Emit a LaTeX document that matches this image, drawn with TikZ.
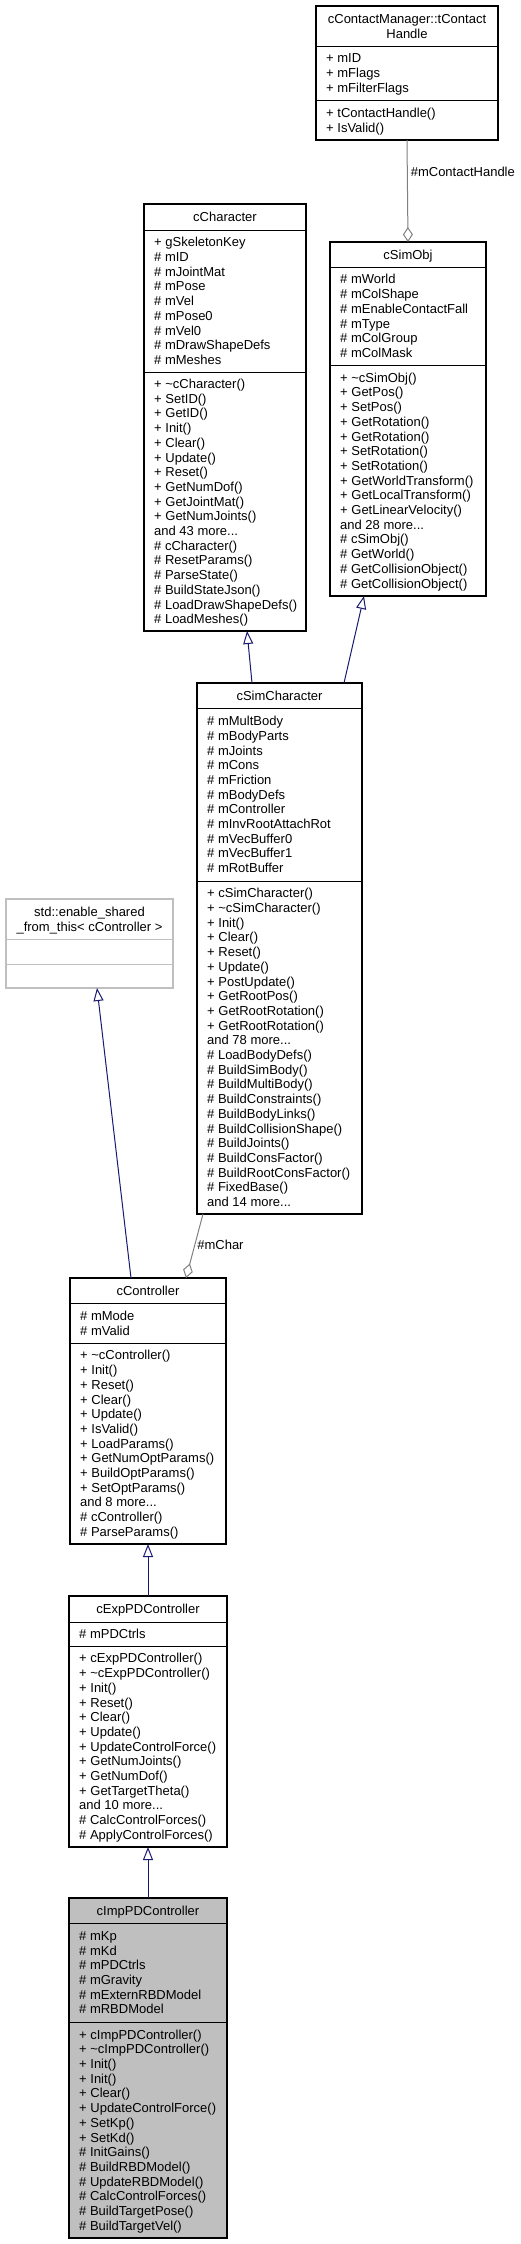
\documentclass[tikz,border=0pt]{standalone}
\usepackage{fontspec}
\setmainfont{Liberation Sans}
\usetikzlibrary{arrows.meta}
\definecolor{inh}{HTML}{191970}
\definecolor{agg}{HTML}{808080}
\definecolor{extc}{HTML}{BFBFBF}
\definecolor{curc}{HTML}{BFBFBF}
\newcommand\cf{\fontsize{13}{14.7}\selectfont}
\newcommand\rs{\rule[-2.7pt]{0pt}{14.7pt}}
\newcommand\cbox[6]{%
  \node[classbox,#6,minimum width={#3-#2},minimum height={#5-#4}] (#1) at ({(#2+#3)/2},{(#4+#5)/2}) {};}
\newcommand\cdiv[4]{\draw[divider,#4] (#1,#3) -- (#2,#3);}
\tikzset{
  classbox/.style={draw=black,line width=1.2pt,fill=white,inner sep=0pt,outer sep=0pt},
  divider/.style={draw=black,line width=1pt},
  ctitle/.style={font=\cf,align=center,inner sep=0pt},
  members/.style={font=\cf,align=left,inner sep=0pt,anchor=west},
  inherit/.style={draw=inh,line width=1pt,-{Triangle[open,length=13pt,width=10pt]}},
  aggreg/.style={draw=agg,line width=1pt,-{Diamond[open,length=15pt,width=10pt]}},
  elabel/.style={font=\cf,inner sep=0pt,anchor=west,text=black},
}
\begin{document}
\begin{tikzpicture}[x=1pt,y=-1pt]
\useasboundingbox (0,0) rectangle (521,2244);

% cContactManager::tContactHandle
\cbox{tcontact}{316}{498}{6}{140}{}
\cdiv{316}{498}{46}{}
\cdiv{316}{498}{100}{}
\node[ctitle] (tcontact-t) at (407,26) {\rs cContactManager::tContact\\\rs Handle};
\node[members] (tcontact-a) at (326,73) {\rs + mID\\\rs + mFlags\\\rs + mFilterFlags};
\node[members] (tcontact-m) at (326,120) {\rs + tContactHandle()\\\rs + IsValid()};

% cCharacter
\cbox{ccharacter}{144}{306}{204}{631}{}
\cdiv{144}{306}{230}{}
\cdiv{144}{306}{372}{}
\node[ctitle] (ccharacter-t) at (225,217) {\rs cCharacter};
\node[members] (ccharacter-a) at (154,301) {\rs + gSkeletonKey\\\rs\# mID\\\rs\# mJointMat\\\rs\# mPose\\\rs\# mVel\\\rs\# mPose0\\\rs\# mVel0\\\rs\# mDrawShapeDefs\\\rs\# mMeshes};
\node[members] (ccharacter-m) at (154,501.5) {\rs + \textasciitilde cCharacter()\\\rs + SetID()\\\rs + GetID()\\\rs + Init()\\\rs + Clear()\\\rs + Update()\\\rs + Reset()\\\rs + GetNumDof()\\\rs + GetJointMat()\\\rs + GetNumJoints()\\\rs and 43 more...\\\rs\# cCharacter()\\\rs\# ResetParams()\\\rs\# ParseState()\\\rs\# BuildStateJson()\\\rs\# LoadDrawShapeDefs()\\\rs\# LoadMeshes()};

% cSimObj
\cbox{csimobj}{330}{486}{242}{596}{}
\cdiv{330}{486}{267}{}
\cdiv{330}{486}{365}{}
\node[ctitle] (csimobj-t) at (408,254.5) {\rs cSimObj};
\node[members] (csimobj-a) at (340,316) {\rs\# mWorld\\\rs\# mColShape\\\rs\# mEnableContactFall\\\rs\# mType\\\rs\# mColGroup\\\rs\# mColMask};
\node[members] (csimobj-m) at (340,480.5) {\rs + \textasciitilde cSimObj()\\\rs + GetPos()\\\rs + SetPos()\\\rs + GetRotation()\\\rs + GetRotation()\\\rs + SetRotation()\\\rs + SetRotation()\\\rs + GetWorldTransform()\\\rs + GetLocalTransform()\\\rs + GetLinearVelocity()\\\rs and 28 more...\\\rs\# cSimObj()\\\rs\# GetWorld()\\\rs\# GetCollisionObject()\\\rs\# GetCollisionObject()};

% cSimCharacter
\cbox{csimchar}{197}{362}{683}{1214}{}
\cdiv{197}{362}{708}{}
\cdiv{197}{362}{881}{}
\node[ctitle] (csimchar-t) at (279.5,695.5) {\rs cSimCharacter};
\node[members] (csimchar-a) at (207,794.5) {\rs\# mMultBody\\\rs\# mBodyParts\\\rs\# mJoints\\\rs\# mCons\\\rs\# mFriction\\\rs\# mBodyDefs\\\rs\# mController\\\rs\# mInvRootAttachRot\\\rs\# mVecBuffer0\\\rs\# mVecBuffer1\\\rs\# mRotBuffer};
\node[members] (csimchar-m) at (207,1047.5) {\rs + cSimCharacter()\\\rs + \textasciitilde cSimCharacter()\\\rs + Init()\\\rs + Clear()\\\rs + Reset()\\\rs + Update()\\\rs + PostUpdate()\\\rs + GetRootPos()\\\rs + GetRootRotation()\\\rs + GetRootRotation()\\\rs and 78 more...\\\rs\# LoadBodyDefs()\\\rs\# BuildSimBody()\\\rs\# BuildMultiBody()\\\rs\# BuildConstraints()\\\rs\# BuildBodyLinks()\\\rs\# BuildCollisionShape()\\\rs\# BuildJoints()\\\rs\# BuildConsFactor()\\\rs\# BuildRootConsFactor()\\\rs\# FixedBase()\\\rs and 14 more...};

% std::enable_shared_from_this< cController >
\cbox{enable}{6}{173}{899}{988}{draw=extc}
\cdiv{6}{173}{939}{draw=extc}
\cdiv{6}{173}{964}{draw=extc}
\node[ctitle] (enable-t) at (89.5,919) {\rs std::enable\_shared\\\rs\_from\_this< cController >};

% cController
\cbox{ccontroller}{70}{226}{1278}{1544}{}
\cdiv{70}{226}{1303}{}
\cdiv{70}{226}{1343}{}
\node[ctitle] (ccontroller-t) at (148,1290.5) {\rs cController};
\node[members] (ccontroller-a) at (80,1323) {\rs\# mMode\\\rs\# mValid};
\node[members] (ccontroller-m) at (80,1443.5) {\rs + \textasciitilde cController()\\\rs + Init()\\\rs + Reset()\\\rs + Clear()\\\rs + Update()\\\rs + IsValid()\\\rs + LoadParams()\\\rs + GetNumOptParams()\\\rs + BuildOptParams()\\\rs + SetOptParams()\\\rs and 8 more...\\\rs\# cController()\\\rs\# ParseParams()};

% cExpPDController
\cbox{cexppd}{69}{227}{1596}{1847}{}
\cdiv{69}{227}{1622}{}
\cdiv{69}{227}{1646}{}
\node[ctitle] (cexppd-t) at (148,1609) {\rs cExpPDController};
\node[members] (cexppd-a) at (79,1634) {\rs\# mPDCtrls};
\node[members] (cexppd-m) at (79,1746.5) {\rs + cExpPDController()\\\rs + \textasciitilde cExpPDController()\\\rs + Init()\\\rs + Reset()\\\rs + Clear()\\\rs + Update()\\\rs + UpdateControlForce()\\\rs + GetNumJoints()\\\rs + GetNumDof()\\\rs + GetTargetTheta()\\\rs and 10 more...\\\rs\# CalcControlForces()\\\rs\# ApplyControlForces()};

% cImpPDController
\cbox{cimppd}{69}{227}{1898}{2238}{fill=curc}
\cdiv{69}{227}{1923}{}
\cdiv{69}{227}{2022}{}
\node[ctitle] (cimppd-t) at (148,1910.5) {\rs cImpPDController};
\node[members] (cimppd-a) at (79,1972.5) {\rs\# mKp\\\rs\# mKd\\\rs\# mPDCtrls\\\rs\# mGravity\\\rs\# mExternRBDModel\\\rs\# mRBDModel};
\node[members] (cimppd-m) at (79,2130) {\rs + cImpPDController()\\\rs + \textasciitilde cImpPDController()\\\rs + Init()\\\rs + Init()\\\rs + Clear()\\\rs + UpdateControlForce()\\\rs + SetKp()\\\rs + SetKd()\\\rs\# InitGains()\\\rs\# BuildRBDModel()\\\rs\# UpdateRBDModel()\\\rs\# CalcControlForces()\\\rs\# BuildTargetPose()\\\rs\# BuildTargetVel()};

% connectors
\draw[aggreg] (tcontact.south) -- node[elabel,pos=0.31,xshift=3pt] {\#mContactHandle} (csimobj.north);
\draw[inherit] ([xshift=-27.5pt]csimchar.north) -- ([xshift=22pt]ccharacter.south);
\draw[inherit] ([xshift=64.5pt]csimchar.north) -- ([xshift=-44pt]csimobj.south);
\draw[inherit] ([xshift=-17pt]ccontroller.north) -- ([xshift=7.5pt]enable.south);
\draw[aggreg] ([xshift=-76.5pt]csimchar.south) -- node[elabel,pos=0.48,xshift=2pt] {\#mChar} ([xshift=38pt]ccontroller.north);
\draw[inherit] (cexppd.north) -- (ccontroller.south);
\draw[inherit] (cimppd.north) -- (cexppd.south);
\end{tikzpicture}
\end{document}
